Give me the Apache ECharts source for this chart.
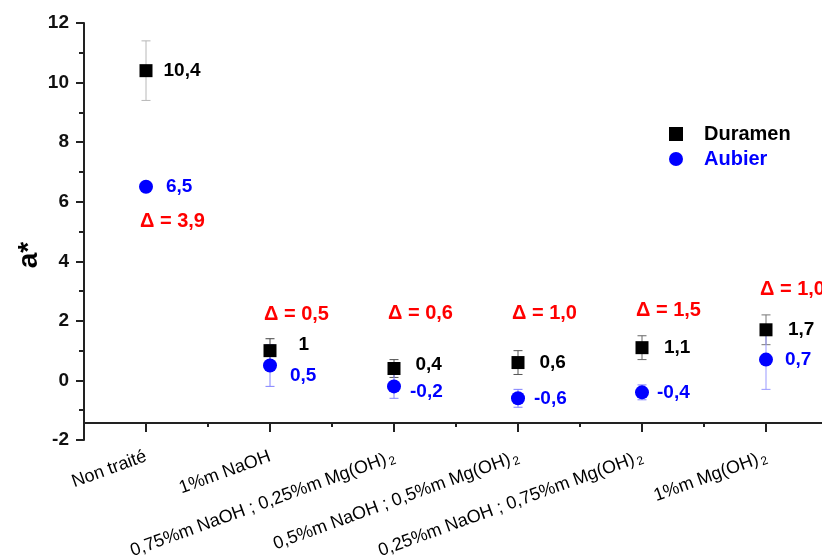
<!DOCTYPE html>
<html>
<head>
<meta charset="utf-8">
<script src="https://cdn.jsdelivr.net/npm/echarts@6/dist/echarts.min.js"></script>
<style>html,body{margin:0;padding:0;background:#fff}#c{width:822px;height:557px}</style>
</head>
<body>
<div id="c"></div>
<script>
// ---- data ----
const categories = ['Non traité', '1%m NaOH', '0,75%m NaOH ; 0,25%m Mg(OH)2', '0,5%m NaOH ; 0,5%m Mg(OH)2', '0,25%m NaOH ; 0,75%m Mg(OH)2', '1%m Mg(OH)2'];
const duramen = [10.4, 1.0, 0.4, 0.6, 1.1, 1.7];
const duramenErr = [1.0, 0.4, 0.3, 0.4, 0.4, 0.5];
const aubier = [6.5, 0.5, -0.2, -0.6, -0.4, 0.7];
const aubierErr = [0, 0.7, 0.4, 0.3, 0.25, 1.0];
const deltaTexts = ['Δ = 3,9', 'Δ = 0,5', 'Δ = 0,6', 'Δ = 1,0', 'Δ = 1,5', 'Δ = 1,0'];
const deltaAnchorY = [5.35, 2.2, 2.25, 2.25, 2.35, 3.05];
const yTicks = [-2, 0, 2, 4, 6, 8, 10, 12];

// ---- styling ----
const FONT = "'Liberation Sans', Arial, sans-serif";
const duramenLabelNudge = [[11, 0], [22, -6], [15, -4], [15, 0], [15.5, 0], [15.5, 0]];
const aubierLabelNudge = [[13, 0], [13, 10], [9, 5], [9, 0], [8, 0], [12, 0]];
const duramenErrColor = ['#b8b8b8', '#444', '#555', '#555', '#666', '#777'];
const aubierErrColor = ['#8080ff', '#8080ff', '#8080ff', '#8080ff', '#8080ff', '#9999ff'];
const fmt = v => String(v).replace('.', ',');

function errData(vals, errs) {
  return vals.map((v, i) => [i, v - errs[i], v + errs[i]]);
}
function errRender(colors) {
  return function (params, api) {
    const i = api.value(0);
    const lo = api.coord([i, api.value(1)]);
    const hi = api.coord([i, api.value(2)]);
    const hw = 4.5;
    const st = { stroke: colors[params.dataIndex], lineWidth: 1 };
    if (Math.abs(lo[1] - hi[1]) < 0.5) return null;
    return {
      type: 'group',
      children: [
        { type: 'line', shape: { x1: lo[0], y1: lo[1], x2: hi[0], y2: hi[1] }, style: st },
        { type: 'line', shape: { x1: hi[0] - hw, y1: hi[1], x2: hi[0] + hw, y2: hi[1] }, style: st },
        { type: 'line', shape: { x1: lo[0] - hw, y1: lo[1], x2: lo[0] + hw, y2: lo[1] }, style: st }
      ]
    };
  };
}

const chart = echarts.init(document.getElementById('c'), null, { renderer: 'canvas' });
chart.setOption({
  animation: false,
  backgroundColor: '#ffffff',
  textStyle: { fontFamily: FONT },
  grid: { left: 84, top: 23, width: 744, height: 417, containLabel: false, outerBoundsMode: 'none' },
  legend: {
    orient: 'vertical',
    left: 664, top: 119,
    itemWidth: 14, itemHeight: 14, itemGap: 5,
    selectedMode: false,
    data: [
      { name: 'Duramen', icon: 'rect', itemStyle: { color: '#000', opacity: 1 }, textStyle: { color: '#000' } },
      { name: 'Aubier', icon: 'circle', itemStyle: { color: '#0000ff', opacity: 1 }, textStyle: { color: '#0000ff' } }
    ],
    textStyle: { fontFamily: FONT, fontSize: 20, fontWeight: 'bold', padding: [0, 0, 0, 16] }
  },
  xAxis: [
    {
      type: 'category', data: categories, boundaryGap: true, offset: -17,
      axisLine: { show: true, onZero: false, lineStyle: { color: '#222', width: 2 } },
      axisTick: { show: true, alignWithLabel: true, interval: 0, length: 9, lineStyle: { color: '#222', width: 2 } },
      axisLabel: {
        rotate: 20, margin: 33, interval: 0, color: '#000', fontSize: 18, fontFamily: FONT,
        formatter: s => s.replace(/Mg\(OH\)2/g, 'Mg(OH){sub|2}'),
        rich: { sub: { fontSize: 12, fontFamily: FONT, color: '#000', padding: [9, 0, 0, 2] } }
      },
      splitLine: { show: false }
    },
    {
      type: 'category', data: categories, boundaryGap: true, offset: -17, position: 'bottom',
      axisLine: { show: false, onZero: false },
      axisTick: { show: true, alignWithLabel: false, interval: 0, length: 4, lineStyle: { color: '#222', width: 2 } },
      axisLabel: { show: false },
      splitLine: { show: false }
    }
  ],
  yAxis: {
    type: 'value', min: -2, max: 12, interval: 2,
    axisLine: { show: true, onZero: false, lineStyle: { color: '#222', width: 2 } },
    axisTick: { show: true, length: 8, lineStyle: { color: '#222', width: 2 } },
    minorTick: { show: true, splitNumber: 2, length: 5, lineStyle: { color: '#222', width: 2 } },
    axisLabel: { margin: 15, color: '#111', fontSize: 19, fontWeight: 'bold', fontFamily: FONT,
      formatter: v => yTicks.includes(v) ? String(v) : '' },
    splitLine: { show: false }
  },
  graphic: [{
    type: 'text', x: 29, y: 255, rotation: Math.PI / 2,
    style: { text: 'a*', font: 'bold 28px ' + FONT, fill: '#000', align: 'center', verticalAlign: 'middle' }
  }],
  series: [
    {
      type: 'custom', name: 'errD', xAxisIndex: 0, z: 1, silent: true,
      renderItem: errRender(duramenErrColor), data: errData(duramen, duramenErr)
    },
    {
      type: 'custom', name: 'errA', xAxisIndex: 0, z: 1, silent: true,
      renderItem: errRender(aubierErrColor), data: errData(aubier, aubierErr)
    },
    {
      type: 'scatter', name: 'Duramen', symbol: 'rect', symbolSize: 13, z: 3,
      itemStyle: { color: '#000', opacity: 1 },
      data: duramen.map((v, i) => ({
        value: [i, v],
        label: { distance: duramenLabelNudge[i][0], offset: [0, duramenLabelNudge[i][1]] }
      })),
      label: { show: true, position: 'right', color: '#000', fontSize: 19, fontWeight: 'bold', fontFamily: FONT,
        formatter: p => fmt(p.value[1]) }
    },
    {
      type: 'scatter', name: 'Aubier', symbol: 'circle', symbolSize: 14, z: 3,
      itemStyle: { color: '#0000ff', opacity: 1 },
      data: aubier.map((v, i) => ({
        value: [i, v],
        label: { distance: aubierLabelNudge[i][0], offset: [0, aubierLabelNudge[i][1]] }
      })),
      label: { show: true, position: 'right', color: '#0000ff', fontSize: 19, fontWeight: 'bold', fontFamily: FONT,
        formatter: p => fmt(p.value[1]) }
    },
    {
      type: 'scatter', name: 'delta', symbol: 'circle', symbolSize: 2, z: 4, silent: true,
      itemStyle: { color: 'rgba(0,0,0,0)', opacity: 1 },
      data: deltaAnchorY.map((y, i) => [i, y]),
      label: { show: true, position: 'right', distance: 0, offset: [-7, 0], color: '#ff0000',
        fontSize: 20, fontWeight: 'bold', fontFamily: FONT,
        formatter: p => deltaTexts[p.dataIndex] }
    }
  ]
});
</script>
</body>
</html>
